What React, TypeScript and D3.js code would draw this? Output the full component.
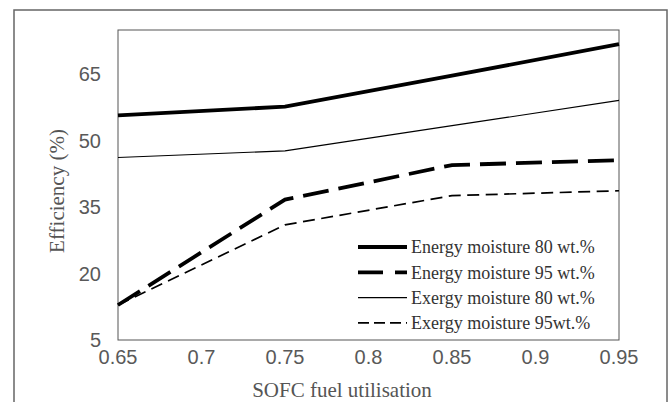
import React from 'react';
import * as d3 from 'd3';

const xValues = [0.65, 0.75, 0.85, 0.95];
const xTicks = [0.65, 0.7, 0.75, 0.8, 0.85, 0.9, 0.95];
const yTicks = [5, 20, 35, 50, 65];

const energy80 = [55.7, 57.7, 64.7, 71.8];
const energy95 = [12.9, 36.7, 44.5, 45.6];
const exergy80 = [46.2, 47.7, 53.4, 59.1];
const exergy95 = [12.9, 31.0, 37.6, 38.7];

const seriesNames = [
  'Energy moisture 80 wt.%',
  'Energy moisture 95 wt.%',
  'Exergy moisture 80 wt.%',
  'Exergy moisture 95wt.%',
];

const W = 669;
const H = 402;
const margin = { top: 30, right: 50, bottom: 62, left: 118 };
const sans = 'Liberation Sans, Arial, sans-serif';
const serif = 'Liberation Serif, Times New Roman, serif';

const App: React.FC = () => {
  const x = d3.scaleLinear().domain([0.65, 0.95]).range([margin.left, W - margin.right]);
  const y = d3.scaleLinear().domain([5, 75]).range([H - margin.bottom, margin.top]);

  const line = d3.line<number>()
    .x((_, i) => x(xValues[i]))
    .y(d => y(d));

  // line styles: plot dash / legend dash
  const series = [
    { values: energy80, width: 3.8, dash: '', legendDash: '' },
    { values: energy95, width: 3.8, dash: '26,10', legendDash: '25,12' },
    { values: exergy80, width: 1.1, dash: '', legendDash: '' },
    { values: exergy95, width: 1.7, dash: '12,6.5', legendDash: '11,5' },
  ];

  const legendX = 358;
  const legendY = 247;
  const legendStep = 25.3;

  return (
    <svg width={W} height={H} style={{ position: 'absolute', left: 0, top: 0, background: '#fff' }}>
      {/* outer frame */}
      <rect x={14} y={10} width={653} height={H + 10} fill="none" stroke="#666" strokeWidth={1.5} />
      {/* plot border */}
      <rect x={x(0.65)} y={y(75)} width={x(0.95) - x(0.65)} height={y(5) - y(75)} fill="none" stroke="#555" strokeWidth={1} />

      {series.map((s, i) => (
        <path key={i} d={line(s.values) || ''} fill="none" stroke="#000" strokeWidth={s.width} strokeDasharray={s.dash} />
      ))}

      {yTicks.map(t => (
        <text key={t} x={101} y={y(t)} dy="0.36em" textAnchor="end" fontFamily={sans} fontSize={20} fill="#595959">{t}</text>
      ))}
      {xTicks.map(t => (
        <text key={t} x={x(t)} y={364} textAnchor="middle" fontFamily={sans} fontSize={20} fill="#595959">{t}</text>
      ))}

      <text x={342} y={397} textAnchor="middle" fontFamily={serif} fontSize={21} fill="#555">SOFC fuel utilisation</text>
      <text transform={`translate(57, 191) rotate(-90)`} textAnchor="middle" dy="0.35em" fontFamily={serif} fontSize={21} fill="#555">Efficiency (%)</text>

      {series.map((s, i) => (
        <g key={i} transform={`translate(${legendX}, ${legendY + i * legendStep})`}>
          <line x1={0} x2={49} y1={0} y2={0} stroke="#000" strokeWidth={s.width} strokeDasharray={s.legendDash} />
          <text x={53} y={0} dy="0.35em" fontFamily={serif} fontSize={18} fill="#333">{seriesNames[i]}</text>
        </g>
      ))}
    </svg>
  );
};

export default App;
